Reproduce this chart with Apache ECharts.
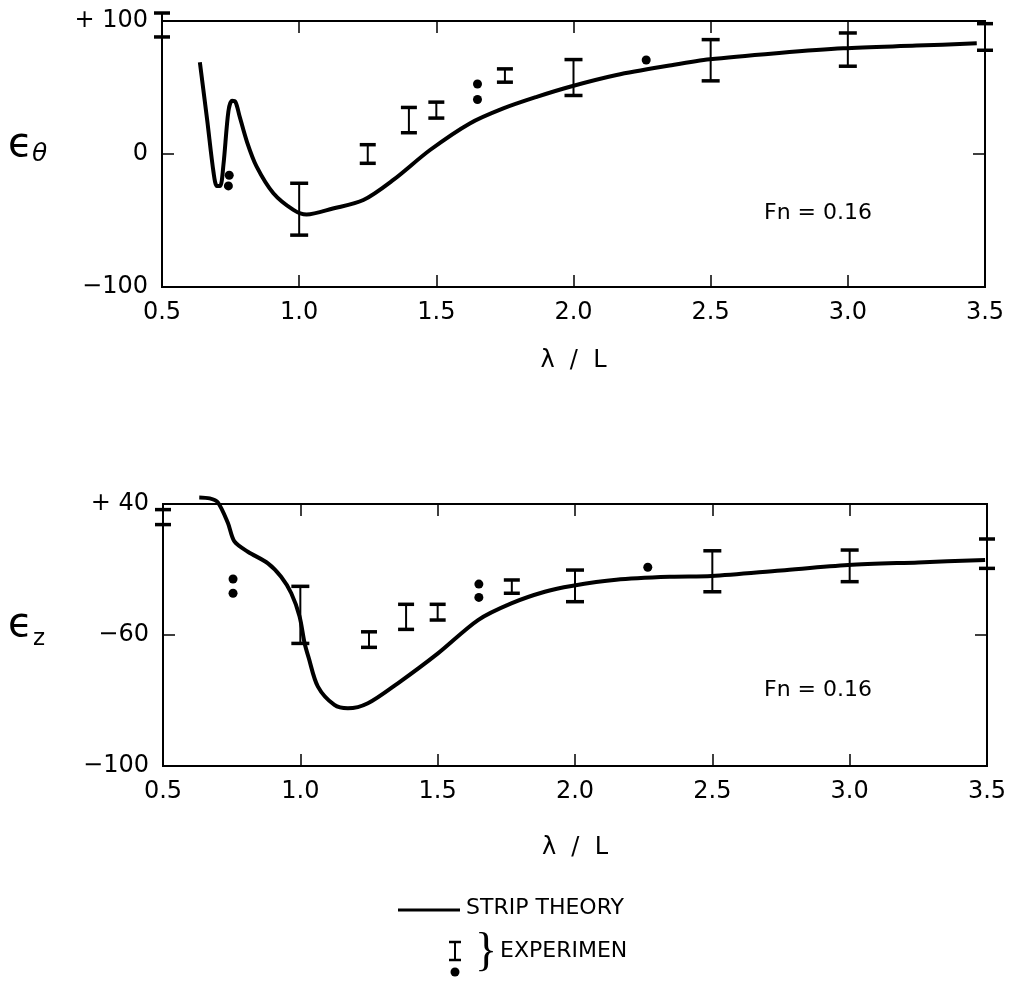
<!DOCTYPE html>
<html>
<head>
<meta charset="utf-8">
<script src="https://cdn.jsdelivr.net/npm/echarts@6/dist/echarts.min.js"></script>
<style>
  html, body { margin: 0; padding: 0; background: #fff; }
  #chart { width: 1016px; height: 984px; }
</style>
</head>
<body>
<div id="chart"></div>
<script>
// 横轴刻度 λ/L
const xTicks = [0.5, 1.0, 1.5, 2.0, 2.5, 3.0, 3.5];
// 纵轴刻度文字（原图下图中间刻度写作 −60）
const thetaTickLabels = ['−100', '0', '+ 100'];
const zTickLabels = ['−100', '−60', '+ 40'];

// 上图 ε_θ : strip theory 曲线
const thetaTheory = [
    [0.638, 69], [0.665, 25], [0.688, -14], [0.7, -24], [0.712, -24], [0.724, -8],
    [0.742, 32], [0.755, 40], [0.768, 39], [0.782, 29], [0.81, 9], [0.845, -9.5],
    [0.906, -29.5], [0.979, -42], [1.027, -45.5], [1.123, -41], [1.234, -34.6],
    [1.343, -19.5], [1.477, 3], [1.622, 23], [1.744, 34.3], [1.866, 43],
    [1.987, 50.6], [2.157, 59.4], [2.35, 66.5], [2.497, 71.2], [2.75, 76],
    [2.983, 79.5], [3.25, 81.5], [3.47, 83.2]
];
// 上图实验值: [λ/L, 下限, 上限]
const thetaBars = [
    [0.5, 88, 106], [1.0, -61, -22], [1.25, -7, 7], [1.4, 16, 35], [1.5, 27, 39],
    [1.75, 54, 64], [2.0, 44, 71], [2.5, 55, 86], [3.0, 66, 91], [3.5, 78, 98]
];
const thetaDots = [[0.745, -16], [0.742, -24], [1.65, 52.6], [1.65, 41], [2.265, 70.7]];

// 下图 ε_z : strip theory 曲线
const zTheory = [
    [0.632, 43.5], [0.67, 43], [0.699, 41], [0.736, 30], [0.76, 20], [0.809, 14.5],
    [0.882, 8.3], [0.93, 1.1], [0.967, -7.7], [0.997, -20], [1.015, -34],
    [1.03, -42], [1.064, -57.6], [1.124, -67.4], [1.173, -69.2], [1.246, -66.5],
    [1.355, -55.8], [1.501, -39.8], [1.647, -22], [1.768, -13.1], [1.89, -6.9],
    [1.987, -3.8], [2.15, -0.5], [2.35, 1.1], [2.497, 1.5], [2.75, 4.5],
    [2.995, 7.4], [3.25, 8.8], [3.493, 10.1]
];
const zBars = [
    [0.5, 29, 37], [1.0, -34.5, -4], [1.25, -36.6, -28.3], [1.385, -27, -13.6],
    [1.5, -22, -13.6], [1.77, -7.7, -0.6], [2.0, -12.2, 4.7], [2.5, -6.9, 15],
    [3.0, -1.5, 15.4], [3.5, 5.6, 21.3]
];
const zDots = [[0.755, -0.1], [0.755, -7.7], [1.65, -2.8], [1.65, -9.9], [2.265, 6.2]];

const FONT = 'DejaVu Sans';

// 误差棒 I 形
function renderErrorBar(params, api) {
    const x = api.value(0);
    const pLo = api.coord([x, api.value(1)]);
    const pHi = api.coord([x, api.value(2)]);
    const hw = Math.abs(pLo[1] - pHi[1]) > 30 ? 9 : 8;
    return {
        type: 'group',
        children: [
            { type: 'line', shape: { x1: pLo[0], y1: pLo[1], x2: pHi[0], y2: pHi[1] }, style: { stroke: '#000', lineWidth: 2 } },
            { type: 'line', shape: { x1: pHi[0] - hw, y1: pHi[1], x2: pHi[0] + hw, y2: pHi[1] }, style: { stroke: '#000', lineWidth: 3.5 } },
            { type: 'line', shape: { x1: pLo[0] - hw, y1: pLo[1], x2: pLo[0] + hw, y2: pLo[1] }, style: { stroke: '#000', lineWidth: 3.5 } }
        ]
    };
}

function xAxisPair(gridIndex, nameGap) {
    const common = {
        type: 'value', gridIndex: gridIndex, min: xTicks[0], max: xTicks[xTicks.length - 1], interval: 0.5,
        axisLine: { show: false, onZero: false },
        axisTick: { show: true, inside: true, length: 12, lineStyle: { color: '#000', width: 1.5 } },
        splitLine: { show: false }
    };
    return [
        Object.assign({}, common, {
            position: 'bottom',
            axisLabel: { color: '#000', fontSize: 24, fontFamily: FONT, margin: 14, formatter: v => v.toFixed(1) },
            name: 'λ  /  L', nameLocation: 'middle', nameGap: nameGap,
            nameTextStyle: { color: '#000', fontSize: 24, fontFamily: FONT }
        }),
        Object.assign({}, common, { position: 'top', axisLabel: { show: false } })
    ];
}

function yAxisPair(gridIndex, min, max, interval, labels) {
    const common = {
        type: 'value', gridIndex: gridIndex, min: min, max: max, interval: interval,
        axisLine: { show: false, onZero: false },
        axisTick: { show: true, inside: true, length: 12, lineStyle: { color: '#000', width: 1.5 } },
        splitLine: { show: false }
    };
    return [
        Object.assign({}, common, {
            position: 'left',
            axisLabel: {
                color: '#000', fontSize: 24, fontFamily: FONT, margin: 14,
                formatter: v => labels[Math.round((v - min) / interval)]
            }
        }),
        Object.assign({}, common, { position: 'right', axisLabel: { show: false } })
    ];
}

const chart = echarts.init(document.getElementById('chart'));

const options = {
    backgroundColor: '#fff',
    animation: false,
    grid: [
        { left: 162, top: 21, width: 823, height: 266, show: true, borderColor: '#000', borderWidth: 2 },
        { left: 163, top: 504, width: 824, height: 262, show: true, borderColor: '#000', borderWidth: 2 }
    ],
    xAxis: [...xAxisPair(0, 62), ...xAxisPair(1, 70)],
    yAxis: [...yAxisPair(0, -100, 100, 100, thetaTickLabels), ...yAxisPair(1, -100, 40, 70, zTickLabels)],
    series: [
        {
            type: 'line', xAxisIndex: 0, yAxisIndex: 0, data: thetaTheory,
            smooth: 0.3, showSymbol: false, clip: false,
            lineStyle: { color: '#000', width: 4 }
        },
        {
            type: 'custom', xAxisIndex: 0, yAxisIndex: 0, data: thetaBars,
            renderItem: renderErrorBar, clip: false
        },
        {
            type: 'scatter', xAxisIndex: 0, yAxisIndex: 0, data: thetaDots,
            symbolSize: 9, itemStyle: { color: '#000', opacity: 1 }
        },
        {
            type: 'line', xAxisIndex: 2, yAxisIndex: 2, data: zTheory,
            smooth: 0.3, showSymbol: false, clip: false,
            lineStyle: { color: '#000', width: 4 }
        },
        {
            type: 'custom', xAxisIndex: 2, yAxisIndex: 2, data: zBars,
            renderItem: renderErrorBar, clip: false
        },
        {
            type: 'scatter', xAxisIndex: 2, yAxisIndex: 2, data: zDots,
            symbolSize: 9, itemStyle: { color: '#000', opacity: 1 }
        }
    ],
    graphic: [
        // 纵轴名称
        { type: 'text', left: 8, top: 126, style: { text: 'ϵ', fontSize: 40, fontFamily: FONT, fill: '#000' } },
        { type: 'text', left: 32, top: 142, style: { text: 'θ', fontSize: 25, fontStyle: 'italic', fontFamily: FONT, fill: '#000' } },
        { type: 'text', left: 8, top: 606, style: { text: 'ϵ', fontSize: 40, fontFamily: FONT, fill: '#000' } },
        { type: 'text', left: 33, top: 628, style: { text: 'z', fontSize: 23, fontFamily: FONT, fill: '#000' } },
        // Fn 标注
        { type: 'text', left: 764, top: 202, style: { text: 'Fn = 0.16', fontSize: 22, fontFamily: FONT, fill: '#000' } },
        { type: 'text', left: 764, top: 679, style: { text: 'Fn = 0.16', fontSize: 22, fontFamily: FONT, fill: '#000' } },
        // 图例
        { type: 'line', shape: { x1: 398, y1: 910, x2: 460, y2: 910 }, style: { stroke: '#000', lineWidth: 3 } },
        { type: 'text', left: 466, top: 897, style: { text: 'STRIP THEORY', fontSize: 22, fontFamily: FONT, fill: '#000' } },
        { type: 'line', shape: { x1: 455, y1: 942, x2: 455, y2: 960 }, style: { stroke: '#000', lineWidth: 2 } },
        { type: 'line', shape: { x1: 449, y1: 942, x2: 461, y2: 942 }, style: { stroke: '#000', lineWidth: 2.5 } },
        { type: 'line', shape: { x1: 449, y1: 960, x2: 461, y2: 960 }, style: { stroke: '#000', lineWidth: 2.5 } },
        { type: 'circle', shape: { cx: 455, cy: 972, r: 4.5 }, style: { fill: '#000' } },
        { type: 'text', left: 475, top: 930, style: { text: '}', fontSize: 46, fontFamily: 'Liberation Serif', fill: '#000' } },
        { type: 'text', left: 500, top: 940, style: { text: 'EXPERIMEN', fontSize: 22, fontFamily: FONT, fill: '#000' } }
    ]
};

chart.setOption(options);
</script>
</body>
</html>
